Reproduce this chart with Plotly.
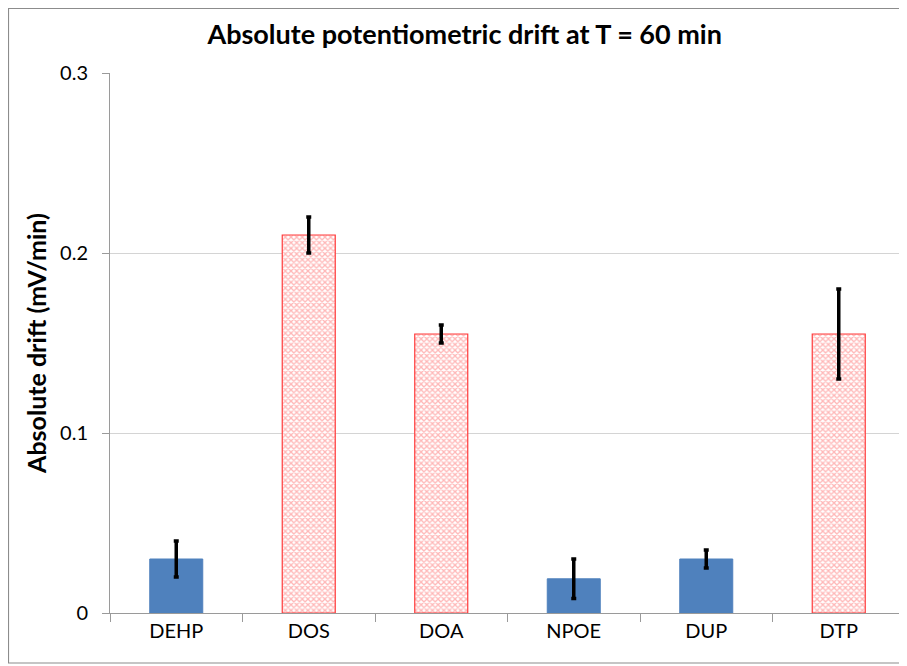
import plotly.graph_objects as go

categories = ["DEHP", "DOS", "DOA", "NPOE", "DUP", "DTP"]
drift = [0.030, 0.210, 0.155, 0.019, 0.030, 0.155]
drift_err = [0.010, 0.010, 0.005, 0.011, 0.005, 0.025]
hatched = [False, True, True, False, False, True]

blue = "#4F81BD"
red = "#FF3B3B"
pink = "#FF7070"

solid_idx = [i for i, h in enumerate(hatched) if not h]
hatch_idx = [i for i, h in enumerate(hatched) if h]

err_style = dict(type="data", visible=True, color="black", thickness=3.5, width=2.5)

fig = go.Figure()
fig.add_trace(go.Bar(
    x=[categories[i] for i in solid_idx],
    y=[drift[i] for i in solid_idx],
    error_y=dict(array=[drift_err[i] for i in solid_idx], **err_style),
    marker=dict(color=blue, line=dict(color=blue, width=1)),
    width=0.4, offsetgroup="a",
))
fig.add_trace(go.Bar(
    x=[categories[i] for i in hatch_idx],
    y=[drift[i] for i in hatch_idx],
    error_y=dict(array=[drift_err[i] for i in hatch_idx], **err_style),
    marker=dict(color="white", line=dict(color=red, width=1.2),
                pattern=dict(shape="x", fgcolor=pink, bgcolor="white",
                             size=4, solidity=0.55, fillmode="overlay")),
    width=0.4, offsetgroup="a",
))

fig.update_layout(
    width=899, height=658,
    margin=dict(l=102, r=2, t=65, b=53),
    paper_bgcolor="white", plot_bgcolor="white",
    barmode="overlay",
    font=dict(family="Lato, Open Sans, sans-serif", size=20, color="black"),
    title=dict(text="<b>Absolute potentiometric drift at T = 60 min</b>",
               x=0.508, xanchor="center", y=0.959, yanchor="middle",
               font=dict(size=27, color="black")),
    showlegend=False,
    shapes=[dict(type="rect", xref="paper", yref="paper",
                 x0=-0.1277, x1=1.0013, y0=-0.0926, y1=1.1194,
                 line=dict(color="#8c8c8c", width=1.2), layer="below")],
)

fig.update_yaxes(
    range=[0, 0.3], tickvals=[0, 0.1, 0.2, 0.3], ticktext=["0", "0.1", "0.2", "0.3"],
    showgrid=True, gridcolor="#d4d4d4", gridwidth=1,
    showline=True, linecolor="#9a9a9a", linewidth=1,
    ticks="outside", ticklen=7, tickcolor="#9a9a9a",
    ticklabelstandoff=10,
    tickfont=dict(size=20),
    title=dict(text="<b>Absolute drift (mV/min)</b>", font=dict(size=25), standoff=6),
    zeroline=False,
)
fig.update_xaxes(
    categoryorder="array", categoryarray=categories,
    showline=True, linecolor="#9a9a9a", linewidth=1,
    ticks="outside", ticklen=8, tickcolor="#9a9a9a", tickson="boundaries",
    tickfont=dict(size=20),
    showgrid=False,
)

fig.write_html("out.html")
